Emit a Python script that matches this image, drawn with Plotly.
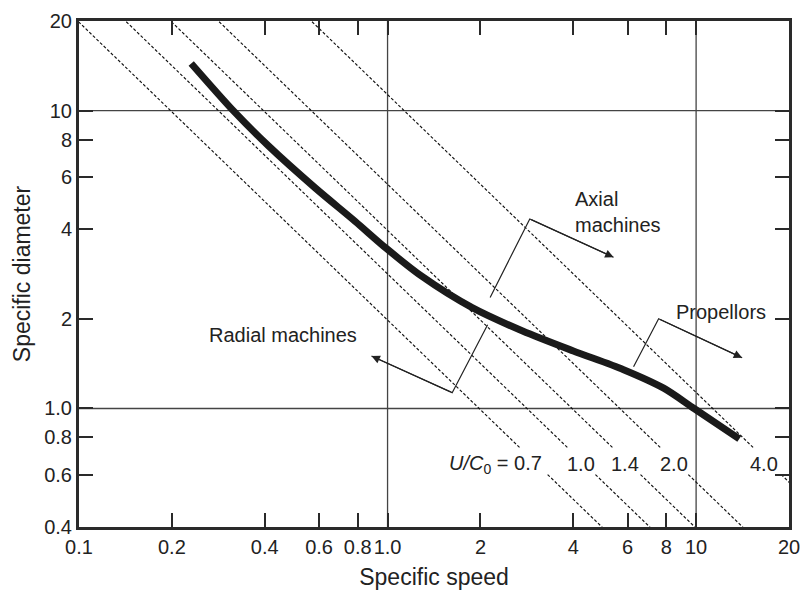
import numpy as np
import plotly.graph_objects as go

# ---------------- data ----------------
# thick curve: specific speed vs specific diameter
curve_ns = [0.231, 0.319, 0.412, 0.582, 0.785, 0.99, 1.29, 1.88, 2.74, 4.0, 5.82, 7.85, 9.85, 13.8]
curve_ds = [14.4, 9.9, 7.6, 5.51, 4.25, 3.45, 2.78, 2.18, 1.82, 1.56, 1.35, 1.17, 1.00, 0.79]

# constant U/C0 lines (Ns*Ds = k * U/C0)
uc0_values = [0.7, 1.0, 1.4, 2.0, 4.0]
uc0_labels = ["0.7", "1.0", "1.4", "2.0", "4.0"]
NS_DS_PER_UC0 = 2.83
label_gap_ds = (0.60, 0.735)   # lines are interrupted where the U/C0 labels sit

# axes
x_tickvals = [0.1, 0.2, 0.4, 0.6, 0.8, 1, 2, 4, 6, 8, 10, 20]
x_ticktext = ["0.1", "0.2", "0.4", "0.6", "0.8", "1.0", "2", "4", "6", "8", "10", "20"]
y_tickvals = [0.4, 0.6, 0.8, 1, 2, 4, 6, 8, 10, 20]
y_ticktext = ["0.4", "0.6", "0.8", "1.0", "2", "4", "6", "8", "10", "20"]
x_range = (0.1, 20)
y_range = (0.4, 20)
grid_x = [1, 10]
grid_y = [1, 10]

# bracket annotations: (start, corner, arrow tip) in (Ns, Ds)
brackets = {
    "Axial": [(2.15, 2.36), (2.89, 4.33), (5.40, 3.22)],
    "Radial": [(2.11, 1.91), (1.62, 1.13), (0.887, 1.50)],
    "Propellors": [(6.27, 1.38), (7.56, 2.0), (14.1, 1.48)],
}
# text labels: (text, Ns, Ds, xanchor)
texts = [
    ("Axial<br>machines", 4.0, 4.56, "left"),
    ("Propellors", 8.5, 2.11, "left"),
    ("Radial machines", 0.26, 1.77, "left"),
]
uc0_label_ns = [3.22, 4.25, 5.9, 8.5, 16.6]
uc0_label_ds = 0.65

FONT = "Liberation Sans, Arial, Helvetica, sans-serif"
INK = "#222222"

fig = go.Figure()

# grid lines at 1 and 10
for gx in grid_x:
    fig.add_trace(go.Scatter(x=[gx, gx], y=list(y_range), mode="lines",
                             line=dict(color="#444444", width=1.3), hoverinfo="skip", showlegend=False))
for gy in grid_y:
    fig.add_trace(go.Scatter(x=list(x_range), y=[gy, gy], mode="lines",
                             line=dict(color="#444444", width=1.3), hoverinfo="skip", showlegend=False))

# dashed U/C0 lines
for u in uc0_values:
    c = NS_DS_PER_UC0 * u
    ds_pts = [y_range[1] * 1.2, label_gap_ds[1], None, label_gap_ds[0], y_range[0] / 1.2]
    ns_pts = [c / d if d is not None else None for d in ds_pts]
    fig.add_trace(go.Scatter(x=ns_pts, y=ds_pts, mode="lines", connectgaps=False,
                             line=dict(color="#111111", width=1.15, dash="3px,2px"),
                             hoverinfo="skip", showlegend=False))

# bracket stems
for name, pts in brackets.items():
    (x0, y0), (x1, y1), (x2, y2) = pts
    fig.add_trace(go.Scatter(x=[x0, x1, x2], y=[y0, y1, y2], mode="lines",
                             line=dict(color=INK, width=1.2), hoverinfo="skip", showlegend=False))

# thick curve
fig.add_trace(go.Scatter(x=curve_ns, y=curve_ds, mode="lines",
                         line=dict(color="#1a1a1a", width=7, shape="spline", smoothing=0.8),
                         hoverinfo="skip", showlegend=False))

annotations = []
# arrow heads
for name, pts in brackets.items():
    (x1, y1), (x2, y2) = pts[1], pts[2]
    annotations.append(dict(x=np.log10(x2), y=np.log10(y2), ax=np.log10(x1), ay=np.log10(y1),
                            xref="x", yref="y", axref="x", ayref="y", text="",
                            showarrow=True, arrowhead=2, arrowsize=1.4, arrowwidth=1.2,
                            arrowcolor=INK, standoff=0))
for t, xn, yd, anc in texts:
    annotations.append(dict(x=np.log10(xn), y=np.log10(yd), xref="x", yref="y", text=t,
                            showarrow=False, xanchor=anc, yanchor="middle", align="left",
                            font=dict(family=FONT, size=20, color=INK)))
# U/C0 labels
for i, (lab, xn) in enumerate(zip(uc0_labels, uc0_label_ns)):
    if i == 0:
        annotations.append(dict(x=np.log10(xn), y=np.log10(uc0_label_ds), xref="x", yref="y",
                                text="<i>U/C</i><sub>0</sub> = " + lab, showarrow=False,
                                xanchor="right", yanchor="middle",
                                font=dict(family=FONT, size=20, color=INK)))
    else:
        annotations.append(dict(x=np.log10(xn), y=np.log10(uc0_label_ds), xref="x", yref="y",
                                text=lab, showarrow=False, xanchor="center", yanchor="middle",
                                font=dict(family=FONT, size=20, color=INK)))

axis_common = dict(
    type="log", showgrid=False, zeroline=False,
    showline=True, linecolor="#2a2a2a", linewidth=3, mirror="ticks",
    ticks="inside", ticklen=14, tickwidth=1.5, tickcolor="#2a2a2a",
    tickfont=dict(family=FONT, size=20, color=INK), tickangle=0,
)

fig.update_layout(
    width=810, height=597,
    margin=dict(l=79, r=17, t=10, b=70),
    paper_bgcolor="white", plot_bgcolor="white",
    xaxis=dict(axis_common, range=[np.log10(x_range[0]), np.log10(x_range[1])],
               tickvals=x_tickvals, ticktext=x_ticktext,
               title=dict(text="Specific speed", standoff=12,
                          font=dict(family=FONT, size=23, color=INK))),
    yaxis=dict(axis_common, range=[np.log10(y_range[0]), np.log10(y_range[1])],
               tickvals=y_tickvals, ticktext=y_ticktext,
               title=dict(text="Specific diameter", standoff=8,
                          font=dict(family=FONT, size=23, color=INK))),
    annotations=annotations,
)

fig.write_html("out.html")
